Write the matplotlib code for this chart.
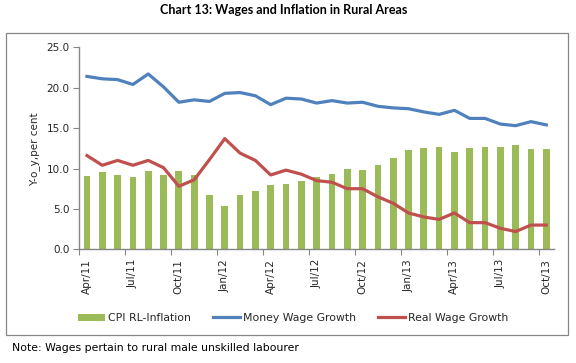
import matplotlib
matplotlib.use("Agg")
import matplotlib.pyplot as plt
from matplotlib.patches import Rectangle
import numpy as np
import pandas as pd

months = pd.date_range(start="2011-04-01", periods=31, freq="MS")
tick_labels = ["Apr/11", "Jul/11", "Oct/11", "Jan/12", "Apr/12", "Jul/12",
               "Oct/12", "Jan/13", "Apr/13", "Jul/13", "Oct/13"]

cpi_rl = [9.1, 9.6, 9.2, 9.0, 9.7, 9.2, 9.7, 9.2, 6.7, 5.3, 6.7,
          7.2, 8.0, 8.1, 8.5, 9.0, 9.3, 9.9, 9.8, 10.4, 11.3,
          12.3, 12.5, 12.6, 12.1, 12.5, 12.6, 12.6, 12.9, 12.4, 12.4]
money_wage = [21.4, 21.1, 21.0, 20.4, 21.7, 20.1, 18.2, 18.5, 18.3, 19.3, 19.4,
              19.0, 17.9, 18.7, 18.6, 18.1, 18.4, 18.1, 18.2, 17.7, 17.5,
              17.4, 17.0, 16.7, 17.2, 16.2, 16.2, 15.5, 15.3, 15.8, 15.4]
real_wage = [11.6, 10.4, 11.0, 10.4, 11.0, 10.1, 7.8, 8.6, 11.1, 13.7, 11.9,
             11.0, 9.2, 9.8, 9.3, 8.5, 8.3, 7.5, 7.5, 6.5, 5.7,
             4.5, 4.0, 3.7, 4.5, 3.3, 3.3, 2.6, 2.2, 3.0, 3.0]

GREEN = "#9BBB59"
BLUE = "#4F81BD"
RED = "#C0504D"
GREY = "#868686"
TXT = "#262626"

fig = plt.figure(figsize=(5.76, 3.63), dpi=100)
ax = fig.add_axes([0.1377, 0.3132, 0.824, 0.5565])

x = np.arange(len(months))
bars = ax.bar(x, cpi_rl, width=0.44, color=GREEN, label="CPI RL-Inflation", zorder=1)
l1, = ax.plot(x, money_wage, color=BLUE, lw=2.3, label="Money Wage Growth", zorder=3)
l2, = ax.plot(x, real_wage, color=RED, lw=2.3, label="Real Wage Growth", zorder=3)

ax.set_xlim(-0.5, len(x) - 0.5)
ax.set_ylim(0, 25)
ax.set_yticks(np.arange(0, 26, 5))
ax.set_yticklabels([f"{v:.1f}" for v in np.arange(0, 26, 5)])

# ticks between categories, labels on every 3rd category
ax.set_xticks(np.arange(-0.5, len(x) - 1, 3))
ax.set_xticklabels([])
ax.set_xticks(np.arange(0, len(x), 3), minor=True)
ax.set_xticklabels(tick_labels, minor=True, rotation=90)
ax.tick_params(axis="x", which="major", direction="out", length=4, color=GREY)
ax.tick_params(axis="x", which="minor", length=0, pad=7, labelsize=7.5, labelcolor=TXT)
ax.tick_params(axis="y", direction="out", length=4, color=GREY, labelsize=7.5,
               labelcolor=TXT, pad=3)

for s in ["top", "right"]:
    ax.spines[s].set_visible(False)
for s in ["left", "bottom"]:
    ax.spines[s].set_color(GREY)
    ax.spines[s].set_linewidth(1.0)

fig.text(35 / 576, 1 - 149 / 363, "Y-o_y,per cent", rotation=90, ha="center",
         va="center", fontsize=7.5, color=TXT)

fig.legend([bars, l1, l2], ["CPI RL-Inflation", "Money Wage Growth", "Real Wage Growth"],
           loc="center", bbox_to_anchor=(293 / 576, 1 - 318 / 363), ncol=3,
           frameon=False, fontsize=7.8, handlelength=2.5, handleheight=0.6,
           columnspacing=2.0, handletextpad=0.3, labelcolor=TXT)

fig.patches.append(Rectangle((6 / 576, 1 - 335 / 363), 562 / 576, 302 / 363,
                             transform=fig.transFigure, fill=False,
                             edgecolor=GREY, lw=0.9))

fig.text(0.493, 1 - 10 / 363, "Chart 13: Wages and Inflation in Rural Areas",
         ha="center", va="center", fontsize=9, fontweight="bold",
         family="Lato", color="black")
fig.text(12 / 576, 1 - 348 / 363, "Note: Wages pertain to rural male unskilled labourer",
         ha="left", va="center", fontsize=7.8, color="black")

fig.savefig("out.png", dpi=100)
